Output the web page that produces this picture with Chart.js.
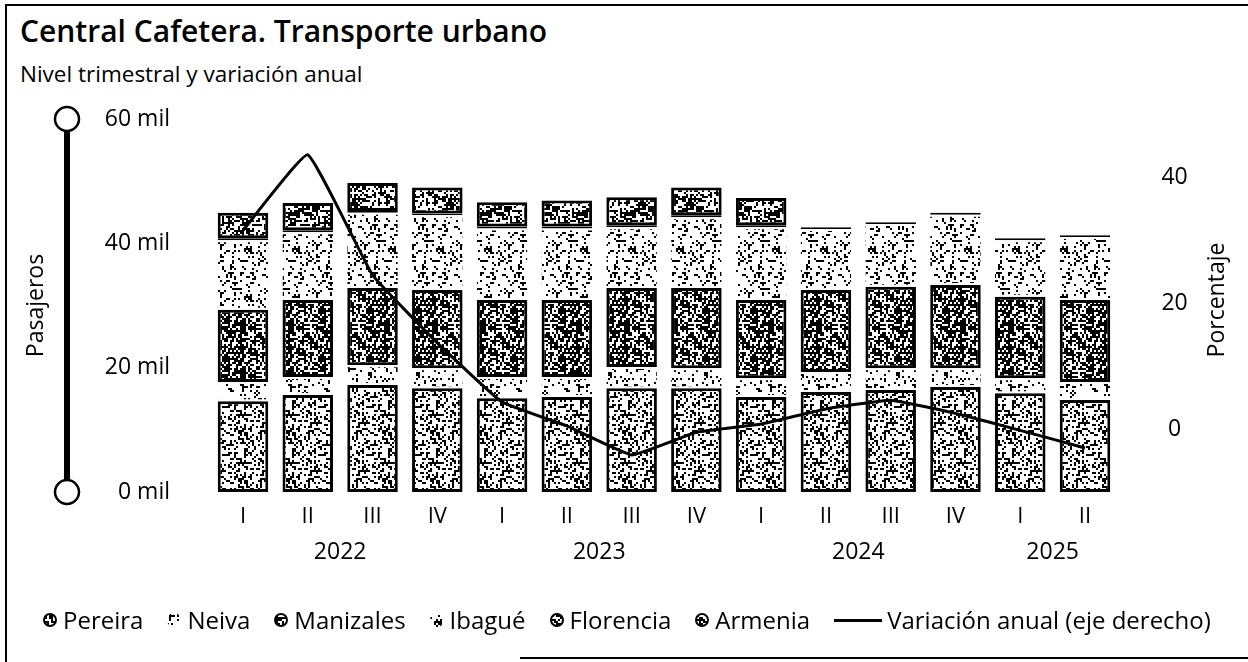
<!DOCTYPE html>
<html lang="es">
<head>
<meta charset="utf-8">
<title>Central Cafetera. Transporte urbano</title>
<script src="https://cdn.jsdelivr.net/npm/chart.js@4.4.1/dist/chart.umd.min.js"></script>
<style>
  html, body { margin: 0; padding: 0; background: #fff; }
  body { width: 1248px; height: 662px; position: relative; overflow: hidden;
         font-family: "Open Sans", sans-serif; color: #000; }
  #chart { position: absolute; left: 0; top: 0; }
  .frame { position: absolute; background: #000; }
  h1 { position: absolute; left: 20px; top: 16px; margin: 0; font-size: 30px; font-weight: 600; line-height: 1; }
  .sub { position: absolute; left: 20px; top: 63px; font-size: 22.5px; line-height: 1; }
  #legend { position: absolute; left: 43px; top: 608px; display: flex; align-items: center;
            font-size: 24px; line-height: 1; white-space: nowrap; }
  #legend .item { display: flex; align-items: center; margin-right: 24px; }
  #legend .dot { width: 14px; height: 14px; border-radius: 50%; margin-right: 6px; box-sizing: border-box; }
  #legend .dash { width: 48px; height: 3px; background: #000; margin-right: 5px; }
</style>
</head>
<body>
<div class="frame" style="left:5px; top:4px; width:1243px; height:2px;"></div>
<div class="frame" style="left:5px; top:4px; width:2px; height:658px;"></div>
<div class="frame" style="left:520px; top:657px; width:728px; height:2px;"></div>
<h1>Central Cafetera. Transporte urbano</h1>
<div class="sub">Nivel trimestral y variación anual</div>
<canvas id="chart" width="1248" height="662"></canvas>
<div id="legend"></div>
<script>
// Quarters and years on the x axis
const quarters = ["I", "II", "III", "IV", "I", "II", "III", "IV", "I", "II", "III", "IV", "I", "II"];
const years = ["2022", "2022", "2022", "2022", "2023", "2023", "2023", "2023",
               "2024", "2024", "2024", "2024", "2025", "2025"];

// Passengers per city (miles), stacked bottom to top in legend order
const pereira   = [14.6, 15.6, 17.2, 16.7, 15.1, 15.3, 16.7, 16.7, 15.3, 16.1, 16.4, 16.9, 15.9, 14.8];
const neiva     = [3.1, 2.9, 3.2, 3.2, 3.4, 3.2, 3.4, 3.2, 3.0, 3.2, 3.5, 3.0, 2.4, 2.9];
const manizales = [11.6, 12.4, 12.4, 12.6, 12.4, 12.4, 12.7, 12.9, 12.6, 13.2, 13.1, 13.4, 13.1, 13.2];
const ibague    = [11.2, 10.9, 12.1, 12.0, 11.5, 11.5, 9.8, 11.4, 11.7, 9.8, 10.1, 11.3, 9.1, 10.1];
const florencia = [0.3, 0.3, 0.3, 0.3, 0.3, 0.3, 0.3, 0.3, 0.3, 0.3, 0.3, 0.3, 0.3, 0.3];
const armenia   = [4.1, 4.4, 4.5, 4.2, 3.9, 4.2, 4.5, 4.5, 4.4, null, null, null, null, null];

// Annual variation (%), right axis
const variacion = [31.6, 43.6, 24.5, 13.7, 4.3, 0.5, -4.1, -0.5, 0.8, 3.2, 4.6, 2.5, -0.2, -3.0];

const leftTicks = [0, 20, 40, 60];
const rightTicks = [0, 20, 40];

const canvas = document.getElementById("chart");
const ctx = canvas.getContext("2d");

// scanned-print stipple texture, deterministic
function stipple(density, seed) {
  const c = document.createElement("canvas");
  c.width = c.height = 48;
  const g = c.getContext("2d");
  g.fillStyle = "#fff";
  g.fillRect(0, 0, 48, 48);
  g.fillStyle = "#000";
  let s = seed;
  const next = () => (s = (s * 16807) % 2147483647) / 2147483647;
  for (let y = 0; y < 48; y += 2) {
    for (let x = 0; x < 48; x += 2) {
      if (next() < density) g.fillRect(x, y, 2, 2);
    }
  }
  return c;
}

const series = [
  { label: "Pereira",   data: pereira,   tex: stipple(0.36, 11), bordered: true },
  { label: "Neiva",     data: neiva,     tex: stipple(0.18, 23), bordered: false },
  { label: "Manizales", data: manizales, tex: stipple(0.60, 37), bordered: true },
  { label: "Ibagué",    data: ibague,    tex: stipple(0.19, 41), bordered: false },
  { label: "Florencia", data: florencia, tex: stipple(0.60, 53), bordered: true },
  { label: "Armenia",   data: armenia,   tex: stipple(0.48, 67), bordered: true }
];

const barSets = series.map(s => ({
  type: "bar",
  label: s.label,
  data: s.data,
  yAxisID: "y",
  order: 1,
  backgroundColor: ctx.createPattern(s.tex, "repeat"),
  borderColor: s.bordered ? "#000" : "#fff",
  borderWidth: s.bordered ? 3 : { top: 2, bottom: 2, left: 0, right: 0 },
  borderSkipped: false,
  barPercentage: 0.78,
  categoryPercentage: 1
}));

// axis decoration, axis titles and year labels
const extras = {
  id: "extras",
  afterDraw(chart) {
    const c = chart.ctx;
    const y = chart.scales.y;
    const x = chart.scales.x;
    const top = y.getPixelForValue(60), bot = y.getPixelForValue(0);
    c.save();
    c.fillStyle = "#000";
    c.fillRect(64, top + 12, 6, bot - top - 24);
    c.lineWidth = 2.5;
    c.strokeStyle = "#000";
    c.fillStyle = "#fff";
    [top, bot].forEach(py => {
      c.beginPath();
      c.arc(67, py, 12, 0, Math.PI * 2);
      c.fill();
      c.stroke();
    });

    c.fillStyle = "#000";
    c.font = "23px 'Open Sans'";
    c.textAlign = "center";
    c.textBaseline = "middle";
    [["Pasajeros", 36, (top + bot) / 2], ["Porcentaje", 1217, 300]].forEach(([t, px, py]) => {
      c.save();
      c.translate(px, py);
      c.rotate(-Math.PI / 2);
      c.fillText(t, 0, 0);
      c.restore();
    });

    const groups = {};
    years.forEach((yr, i) => { (groups[yr] = groups[yr] || []).push(i); });
    Object.keys(groups).forEach(yr => {
      const idx = groups[yr];
      const px = (x.getPixelForValue(idx[0]) + x.getPixelForValue(idx[idx.length - 1])) / 2;
      c.fillText(yr, px, 552);
    });
    c.restore();
  }
};

const chart = new Chart(ctx, {
  data: {
    labels: quarters,
    datasets: [{
      type: "line",
      label: "Variación anual (eje derecho)",
      data: variacion,
      yAxisID: "y2",
      order: 0,
      borderColor: "#000",
      borderWidth: 3,
      pointRadius: 0,
      tension: 0.1
    }, ...barSets]
  },
  options: {
    responsive: false,
    animation: false,
    devicePixelRatio: 1,
    layout: { padding: { top: 119, left: 20, right: 50.6, bottom: 110 } },
    plugins: { legend: { display: false }, tooltip: { enabled: false } },
    scales: {
      x: {
        stacked: true,
        grid: { display: false, drawTicks: false },
        border: { display: false },
        ticks: { color: "#000", font: { family: "Open Sans", size: 22 }, padding: 12 },
        afterFit(s) { s.height = 60; }
      },
      y: {
        stacked: true,
        position: "left",
        min: 0,
        max: 60,
        grid: { display: false, drawTicks: false },
        border: { display: false },
        afterBuildTicks(s) { s.ticks = leftTicks.map(v => ({ value: v })); },
        ticks: { color: "#000", font: { family: "Open Sans", size: 23 }, padding: 40.6,
                 callback: v => v + " mil" },
        afterFit(s) { s.width = 190.6; }
      },
      y2: {
        position: "right",
        min: -10,
        max: 49.3,
        grid: { display: false, drawTicks: false },
        border: { display: false },
        afterBuildTicks(s) { s.ticks = rightTicks.map(v => ({ value: v })); },
        ticks: { color: "#000", font: { family: "Open Sans", size: 23 }, padding: 44, crossAlign: "center" },
        afterFit(s) { s.width = 80; }
      }
    }
  },
  plugins: [extras]
});

// HTML legend
const legendEl = document.getElementById("legend");
series.forEach(s => {
  const item = document.createElement("span");
  item.className = "item";
  const dot = document.createElement("span");
  dot.className = "dot";
  dot.style.backgroundImage = "url(" + s.tex.toDataURL() + ")";
  dot.style.border = s.bordered ? "2px solid #000" : "none";
  item.appendChild(dot);
  item.appendChild(document.createTextNode(s.label));
  legendEl.appendChild(item);
});
const lineItem = document.createElement("span");
lineItem.className = "item";
lineItem.innerHTML = '<span class="dash"></span>Variación anual (eje derecho)';
legendEl.appendChild(lineItem);
</script>
</body>
</html>
